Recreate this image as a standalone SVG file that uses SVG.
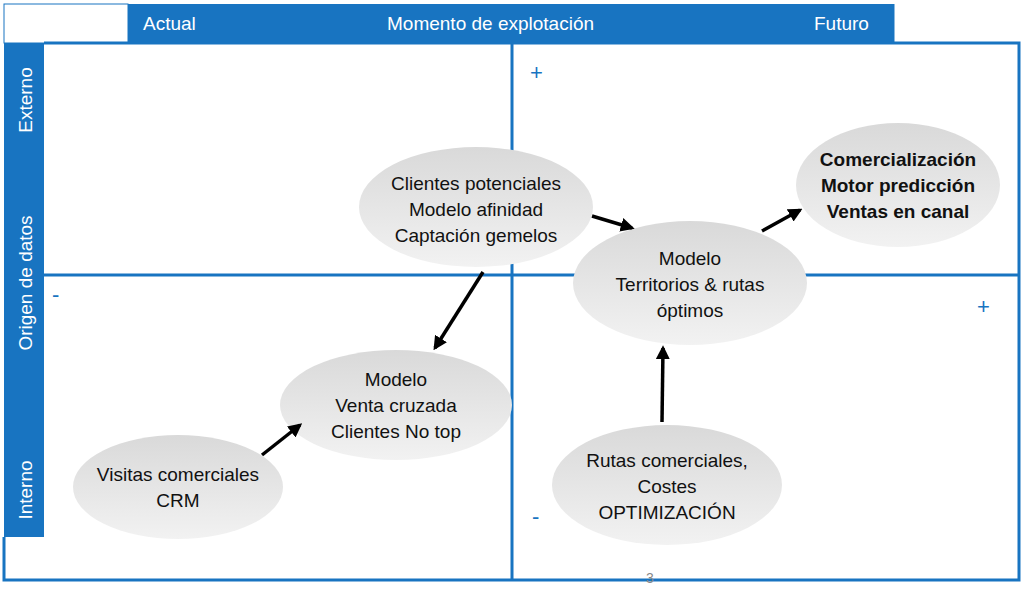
<svg xmlns="http://www.w3.org/2000/svg" width="1024" height="603" viewBox="0 0 1024 603">
<defs>
<linearGradient id="g" x1="0" y1="0" x2="0" y2="1"><stop offset="0" stop-color="#d9d9d9"/><stop offset="1" stop-color="#f2f2f2"/></linearGradient>
<marker id="ah" viewBox="0 0 10 10" refX="8" refY="5" markerWidth="4" markerHeight="4" orient="auto"><path d="M0,0L10,5L0,10z" fill="#000"/></marker>
<style>
.b{fill:#1874c1}
.l{stroke:#1874c1;stroke-width:3;fill:none}
.h{font-family:"Liberation Sans",Arial,sans-serif;font-size:19px;fill:#fff}
.t{font-family:"Liberation Sans",Arial,sans-serif;font-size:19px;fill:#111;text-anchor:middle}
.p{font-family:"Liberation Sans",Arial,sans-serif;font-size:22px;fill:#1874c1}
.n{fill:url(#g)}
.a{stroke:#000;stroke-width:3.5;marker-end:url(#ah)}
</style>
</defs>
<rect width="1024" height="603" fill="#fff"/>
<rect x="4" y="4" width="124" height="39" fill="none" stroke="#1874c1" stroke-width="1"/>
<rect class="b" x="128" y="4" width="765" height="39"/>
<rect class="b" x="4" y="43" width="40" height="494"/>
<path class="l" d="M44,43H1019V580H4V537"/>
<path class="l" d="M893,4V43"/>
<path class="l" d="M512,43V580M44,275H1019"/>
<text class="h" x="143" y="30">Actual</text>
<text class="h" x="387" y="30">Momento de explotación</text>
<text class="h" x="814" y="30">Futuro</text>
<text class="h" transform="translate(32,100) rotate(-90)" text-anchor="middle">Externo</text>
<text class="h" transform="translate(32,283) rotate(-90)" text-anchor="middle">Origen de datos</text>
<text class="h" transform="translate(32,490) rotate(-90)" text-anchor="middle">Interno</text>
<text class="p" x="530" y="80">+</text>
<text class="p" x="52" y="302">-</text>
<text class="p" x="977" y="314">+</text>
<text class="p" x="532" y="524">-</text>
<text x="650" y="583" font-family="Liberation Sans,Arial,sans-serif" font-size="14" fill="#888" text-anchor="middle">3</text>
<g id="n1"><ellipse class="n" cx="476" cy="207" rx="117" ry="60"/><text class="t" x="476" y="190">Clientes potenciales</text><text class="t" x="476" y="216">Modelo afinidad</text><text class="t" x="476" y="242">Captación gemelos</text></g>
<g id="n2"><ellipse class="n" cx="898" cy="185" rx="102" ry="62"/><text class="t" x="898" y="166" font-weight="bold">Comercialización</text><text class="t" x="898" y="192" font-weight="bold">Motor predicción</text><text class="t" x="898" y="218" font-weight="bold">Ventas en canal</text></g>
<g id="n3"><ellipse class="n" cx="690" cy="283" rx="117" ry="62"/><text class="t" x="690" y="265">Modelo</text><text class="t" x="690" y="291">Territorios &amp; rutas</text><text class="t" x="690" y="317">óptimos</text></g>
<g id="n4"><ellipse class="n" cx="396" cy="405" rx="116" ry="55"/><text class="t" x="396" y="386">Modelo</text><text class="t" x="396" y="412">Venta cruzada</text><text class="t" x="396" y="438">Clientes No top</text></g>
<g id="n5"><ellipse class="n" cx="178" cy="487" rx="105" ry="52"/><text class="t" x="178" y="481">Visitas comerciales</text><text class="t" x="178" y="507">CRM</text></g>
<g id="n6"><ellipse class="n" cx="667" cy="485" rx="115" ry="60"/><text class="t" x="667" y="467">Rutas comerciales,</text><text class="t" x="667" y="493">Costes</text><text class="t" x="667" y="519">OPTIMIZACIÓN</text></g>
<g id="connectors">
<line class="a" x1="592" y1="216" x2="632" y2="228"/>
<line class="a" x1="762" y1="231" x2="800" y2="210"/>
<line class="a" x1="483" y1="272" x2="435" y2="348"/>
<line class="a" x1="262" y1="455" x2="300" y2="425"/>
<line class="a" x1="662" y1="422" x2="663" y2="348"/>
</g>
</svg>
